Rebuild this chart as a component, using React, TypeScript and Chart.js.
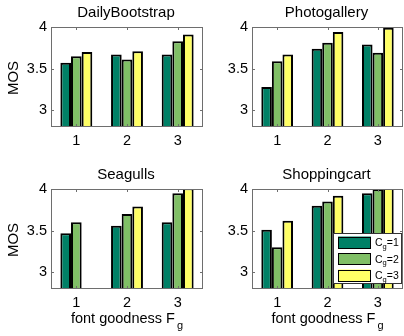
import { useEffect, useRef } from 'react';
import { Chart, registerables } from 'chart.js';

Chart.register(...registerables);

// Font goodness levels on the x axis
const fontGoodness = ['1', '2', '3'];
// Colour goodness levels (one bar per level)
const colourGoodness = ['1', '2', '3'];
const yTicks = [3, 3.5, 4];
const yMin = 2.8;
const yMax = 4;

// Mean opinion scores, one array per colour goodness level
const dailyBootstrapC1 = [3.57, 3.67, 3.67];
const dailyBootstrapC2 = [3.65, 3.61, 3.83];
const dailyBootstrapC3 = [3.7, 3.71, 3.91];

const photogalleryC1 = [3.28, 3.74, 3.79];
const photogalleryC2 = [3.59, 3.81, 3.69];
const photogalleryC3 = [3.67, 3.94, 3.99];

const seagullsC1 = [3.47, 3.56, 3.6];
const seagullsC2 = [3.6, 3.7, 3.95];
const seagullsC3 = [null, 3.79, 4.01];

const shoppingcartC1 = [3.51, 3.8, 3.95];
const shoppingcartC2 = [3.3, 3.85, 4.0];
const shoppingcartC3 = [3.62, 3.92, 4.05];

// MATLAB "summer" colormap samples
const barColors = ['#008066', '#80bf66', '#ffff66'];

const FONT = "'Liberation Sans', Arial, Helvetica, sans-serif";

type PanelSpec = {
  title: string;
  series: (number | null)[][];
  left: number;
  top: number;
  width: number;
  height: number;
  area: { left: number; right: number; top: number; bottom: number };
  yTitle: boolean;
  xTitle: boolean;
  legend: boolean;
};

const TOP_AREA = { top: 27, bottom: 127 };
const BOTTOM_AREA = { top: 21, bottom: 121 };

const panels: PanelSpec[] = [
  {
    title: 'DailyBootstrap',
    series: [dailyBootstrapC1, dailyBootstrapC2, dailyBootstrapC3],
    left: 0, top: 0, width: 206, height: 168,
    area: { left: 51, right: 203, ...TOP_AREA },
    yTitle: true, xTitle: false, legend: false,
  },
  {
    title: 'Photogallery',
    series: [photogalleryC1, photogalleryC2, photogalleryC3],
    left: 206, top: 0, width: 198, height: 168,
    area: { left: 46, right: 197, ...TOP_AREA },
    yTitle: false, xTitle: false, legend: false,
  },
  {
    title: 'Seagulls',
    series: [seagullsC1, seagullsC2, seagullsC3],
    left: 0, top: 168, width: 206, height: 168,
    area: { left: 51, right: 203, ...BOTTOM_AREA },
    yTitle: true, xTitle: true, legend: false,
  },
  {
    title: 'Shoppingcart',
    series: [shoppingcartC1, shoppingcartC2, shoppingcartC3],
    left: 206, top: 168, width: 198, height: 168,
    area: { left: 46, right: 197, ...BOTTOM_AREA },
    yTitle: false, xTitle: true, legend: true,
  },
];

// Draws the axes box with inward ticks, titles and the legend
const decorPlugin = {
  id: 'decor',
  afterDatasetsDraw(chart: any, _args: any, opts: any) {
    const ctx: CanvasRenderingContext2D = chart.ctx;
    const { left, right, top, bottom } = chart.chartArea;
    const xs = chart.scales.x;
    const ys = chart.scales.y;
    ctx.save();

    // axes box
    ctx.strokeStyle = '#6e6e6e';
    ctx.lineWidth = 1;
    ctx.strokeRect(left + 0.5, top + 0.5, right - left - 1, bottom - top - 1);

    // inward tick marks
    ctx.beginPath();
    const tl = 3;
    for (const v of yTicks) {
      const y = Math.round(ys.getPixelForValue(v)) + 0.5;
      ctx.moveTo(left, y);
      ctx.lineTo(left + tl, y);
      ctx.moveTo(right, y);
      ctx.lineTo(right - tl, y);
    }
    for (let i = 0; i < fontGoodness.length; i++) {
      const x = Math.round(xs.getPixelForValue(i)) + 0.5;
      ctx.moveTo(x, bottom);
      ctx.lineTo(x, bottom - tl);
      ctx.moveTo(x, top);
      ctx.lineTo(x, top + tl);
    }
    ctx.stroke();

    ctx.fillStyle = '#000';

    // panel title
    ctx.font = `15px ${FONT}`;
    ctx.textAlign = 'center';
    ctx.textBaseline = 'alphabetic';
    ctx.fillText(opts.title, (left + right) / 2 - 1, top - 10);

    // y axis title
    if (opts.yTitle) {
      ctx.save();
      ctx.translate(14, (top + bottom) / 2 + 1);
      ctx.rotate(-Math.PI / 2);
      ctx.textAlign = 'center';
      ctx.textBaseline = 'middle';
      ctx.font = `15px ${FONT}`;
      ctx.fillText('MOS', 0, 0);
      ctx.restore();
    }

    // x axis title with subscript
    if (opts.xTitle) {
      const main = 'font goodness F';
      const sub = 'g';
      ctx.font = `14.5px ${FONT}`;
      const mw = ctx.measureText(main).width;
      ctx.font = `11px ${FONT}`;
      const sw = ctx.measureText(sub).width;
      const total = mw + 2 + sw;
      const x0 = (left + right) / 2 - total / 2;
      const base = bottom + 34;
      ctx.textAlign = 'left';
      ctx.font = `14.5px ${FONT}`;
      ctx.fillText(main, x0, base);
      ctx.font = `11px ${FONT}`;
      ctx.fillText(sub, x0 + mw + 2, base + 6);
    }

    // legend
    if (opts.legend) {
      const bx = right - 70;
      const by = bottom - 56;
      const bw = 69;
      const bh = 51;
      ctx.fillStyle = '#fff';
      ctx.fillRect(bx, by, bw, bh);
      ctx.strokeStyle = '#333';
      ctx.strokeRect(bx + 0.5, by + 0.5, bw - 1, bh - 1);
      for (let i = 0; i < colourGoodness.length; i++) {
        const py = by + 3.5 + i * 16.5;
        ctx.fillStyle = barColors[i];
        ctx.fillRect(bx + 5, py, 33, 12);
        ctx.strokeStyle = '#000';
        ctx.strokeRect(bx + 5.5, Math.round(py) + 0.5, 32, 11);
        const cy = py + 6;
        ctx.fillStyle = '#000';
        ctx.textAlign = 'left';
        ctx.font = `10.5px ${FONT}`;
        const tx = bx + 42;
        ctx.fillText('C', tx, cy + 3.8);
        const cw = ctx.measureText('C').width;
        ctx.font = `7.5px ${FONT}`;
        ctx.fillText('g', tx + cw, cy + 6.4);
        const gw = ctx.measureText('g').width;
        ctx.font = `10.5px ${FONT}`;
        ctx.fillText('=' + colourGoodness[i], tx + cw + gw, cy + 3.8);
      }
    }
    ctx.restore();
  },
};

function Panel({ spec }: { spec: PanelSpec }) {
  const ref = useRef<HTMLCanvasElement>(null);
  useEffect(() => {
    const canvas = ref.current;
    if (!canvas) return;
    const { area, width, height } = spec;
    const chart = new Chart(canvas, {
      type: 'bar',
      data: {
        labels: fontGoodness,
        datasets: spec.series.map((data, i) => ({
          label: 'C_g=' + colourGoodness[i],
          data,
          backgroundColor: barColors[i],
          borderColor: '#000',
          borderWidth: 2,
          borderSkipped: 'start',
          categoryPercentage: 0.63,
          barPercentage: 1,
          clip: 0,
        })),
      } as any,
      options: {
        responsive: false,
        animation: false,
        devicePixelRatio: 1,
        layout: {
          padding: { left: 0, top: area.top, right: width - area.right, bottom: 0 },
        },
        plugins: {
          legend: { display: false },
          tooltip: { enabled: false },
          decor: {
            title: spec.title,
            yTitle: spec.yTitle,
            xTitle: spec.xTitle,
            legend: spec.legend,
          },
        } as any,
        scales: {
          x: {
            type: 'category',
            offset: true,
            grid: { display: false, drawTicks: false },
            border: { display: false },
            ticks: { color: '#000', font: { family: FONT, size: 14.5 }, padding: 5, maxRotation: 0 },
            afterFit: (s: any) => {
              s.height = height - area.bottom;
            },
          },
          y: {
            type: 'linear',
            min: yMin,
            max: yMax,
            grid: { display: false, drawTicks: false },
            border: { display: false },
            ticks: {
              color: '#000',
              font: { family: FONT, size: 14.5 },
              padding: 4,
              callback: (v: any) => String(v),
            },
            afterBuildTicks: (s: any) => {
              s.ticks = yTicks.map((value) => ({ value }));
            },
            afterFit: (s: any) => {
              s.width = area.left;
            },
          },
        },
      },
      plugins: [decorPlugin],
    });
    return () => chart.destroy();
  }, [spec]);

  return (
    <canvas
      ref={ref}
      width={spec.width}
      height={spec.height}
      style={{
        position: 'absolute',
        left: spec.left,
        top: spec.top,
        width: spec.width,
        height: spec.height,
        display: 'block',
      }}
    />
  );
}

export default function App() {
  return (
    <div
      style={{
        position: 'fixed',
        left: 0,
        top: 0,
        width: 404,
        height: 336,
        background: '#fff',
        overflow: 'hidden',
      }}
    >
      {panels.map((p) => (
        <Panel key={p.title} spec={p} />
      ))}
    </div>
  );
}
